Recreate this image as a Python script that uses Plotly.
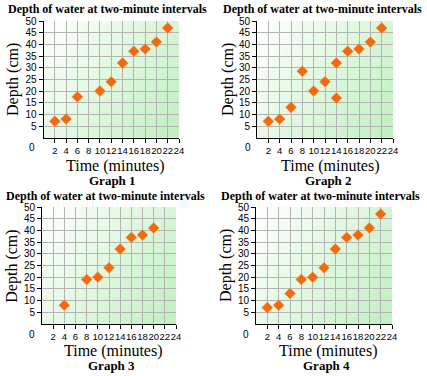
import base64, struct, zlib
import plotly.graph_objects as go

W, H = 427, 376

# ---- data ----
g1_time = [2, 4, 6, 10, 12, 14, 16, 18, 20, 22]
g1_depth = [7, 8, 17.5, 20, 24, 32, 37, 38, 41, 47]
g2_time = [2, 4, 6, 8, 10, 12, 14, 14, 16, 18, 20, 22]
g2_depth = [7, 8, 13, 28.5, 20, 24, 32, 17, 37, 38, 41, 47]
g3_time = [4, 8, 10, 12, 14, 16, 18, 20]
g3_depth = [8, 19, 20, 24, 32, 37, 38, 41]
g4_time = [2, 4, 6, 8, 10, 12, 14, 16, 18, 20, 22]
g4_depth = [7, 8, 13, 19, 20, 24, 32, 37, 38, 41, 47]
x_ticks = list(range(2, 25, 2))
y_ticks = list(range(5, 51, 5))
title_text = "Depth of water at two-minute intervals"
x_title = "Time (minutes)"
y_title = "Depth (cm)"
graph_names = ["Graph 1", "Graph 2", "Graph 3", "Graph 4"]


def gradient_png(n=48, c0=(255, 255, 255), c1=(192, 240, 192)):
    raw = b""
    for j in range(n):
        raw += b"\x00"
        for i in range(n):
            t = (i / (n - 1) * 0.65 + j / (n - 1) * 0.35)
            t = min(1.0, t)
            px = bytes(int(round(c0[k] + (c1[k] - c0[k]) * t)) for k in range(3))
            raw += px
    def chunk(tag, data):
        c = struct.pack(">I", len(data)) + tag + data
        return c + struct.pack(">I", zlib.crc32(tag + data) & 0xffffffff)
    png = b"\x89PNG\r\n\x1a\n"
    png += chunk(b"IHDR", struct.pack(">IIBBBBB", n, n, 8, 2, 0, 0, 0))
    png += chunk(b"IDAT", zlib.compress(raw, 9))
    png += chunk(b"IEND", b"")
    return "data:image/png;base64," + base64.b64encode(png).decode()


bg = gradient_png()

# plot areas in pixels: (left, right, top, bottom)
areas = [
    (43.5, 179, 21, 137.7),
    (257, 393, 21, 137.7),
    (42, 176, 207, 324),
    (256, 392, 207, 324),
]
series = [(g1_time, g1_depth), (g2_time, g2_depth), (g3_time, g3_depth), (g4_time, g4_depth)]

title_pos = [(107.5, 9.5), (322, 9.5), (105, 195.5), (320, 195.5)]
xt_pos = [(115, 165.5), (330.5, 165.5), (113, 351), (328, 351)]
gn_pos = [(112.5, 180.5), (328, 180.5), (111, 365.5), (326, 365.5)]
yt_pos = [(13, 80), (228, 80), (11.7, 266), (226, 266)]
zero_pos = [(32, 147), (248, 147), (31.7, 334), (246, 334)]

fig = go.Figure()
layout = dict(
    width=W, height=H, margin=dict(l=0, r=0, t=0, b=0),
    paper_bgcolor="white", plot_bgcolor="rgba(0,0,0,0)", showlegend=False,
    images=[], annotations=[],
)

def px(x):
    return x / W

def py(y):
    return 1 - y / H

for i, ((l, r, t, b), (xs, ys)) in enumerate(zip(areas, series)):
    n = "" if i == 0 else str(i + 1)
    fig.add_trace(go.Scatter(
        x=xs, y=ys, mode="markers", xaxis="x" + n, yaxis="y" + n,
        marker=dict(symbol="diamond", size=8.5, color="#f26a10",
                    line=dict(width=0.5, color="#ff9a50")),
        hoverinfo="skip",
    ))
    axis_common = dict(
        showgrid=True, gridcolor="#b4b4b4", gridwidth=1, zeroline=False,
        showline=True, linecolor="black", linewidth=1,
        ticks="outside", ticklen=4, tickcolor="black",
        fixedrange=True, automargin=False,
    )
    layout["xaxis" + n] = dict(
        axis_common, domain=[px(l), px(r)], range=[0, 24], tickangle=0,
        tickfont=dict(family="Liberation Sans, Arial", size=9.5, color="black"),
        tickmode="array", tickvals=x_ticks, ticktext=[str(v) for v in x_ticks],
        anchor="y" + n,
    )
    layout["yaxis" + n] = dict(
        axis_common, domain=[py(b), py(t)], range=[0, 50],
        tickfont=dict(family="Liberation Sans, Arial", size=10, color="black"),
        tickmode="array", tickvals=y_ticks, ticktext=[str(v) for v in y_ticks],
        anchor="x" + n,
    )
    layout["images"].append(dict(
        source=bg, xref="paper", yref="paper", x=px(l), y=py(t),
        sizex=px(r) - px(l), sizey=py(t) - py(b), sizing="stretch",
        xanchor="left", yanchor="top", layer="below",
    ))
    ann = layout["annotations"]
    ann.append(dict(text="<b>%s</b>" % title_text, x=px(title_pos[i][0]), y=py(title_pos[i][1]),
                    xref="paper", yref="paper", showarrow=False, xanchor="center", yanchor="middle",
                    font=dict(family="Liberation Serif, Times New Roman", size=12, color="black")))
    ann.append(dict(text=x_title, x=px(xt_pos[i][0]), y=py(xt_pos[i][1]),
                    xref="paper", yref="paper", showarrow=False, xanchor="center", yanchor="middle",
                    font=dict(family="Liberation Serif, Times New Roman", size=16, color="black")))
    ann.append(dict(text="<b>%s</b>" % graph_names[i], x=px(gn_pos[i][0]), y=py(gn_pos[i][1]),
                    xref="paper", yref="paper", showarrow=False, xanchor="center", yanchor="middle",
                    font=dict(family="Liberation Serif, Times New Roman", size=13, color="black")))
    ann.append(dict(text=y_title, x=px(yt_pos[i][0]), y=py(yt_pos[i][1]), textangle=-90,
                    xref="paper", yref="paper", showarrow=False, xanchor="center", yanchor="middle",
                    font=dict(family="Liberation Serif, Times New Roman", size=16, color="black")))
    ann.append(dict(text="0", x=px(zero_pos[i][0]), y=py(zero_pos[i][1]),
                    xref="paper", yref="paper", showarrow=False, xanchor="center", yanchor="middle",
                    font=dict(family="Liberation Sans, Arial", size=10, color="black")))

fig.update_layout(**layout)
fig.write_html("out.html", config={"displayModeBar": False, "staticPlot": True},
               post_script="document.body.style.margin='0';document.body.style.overflow='hidden';")
